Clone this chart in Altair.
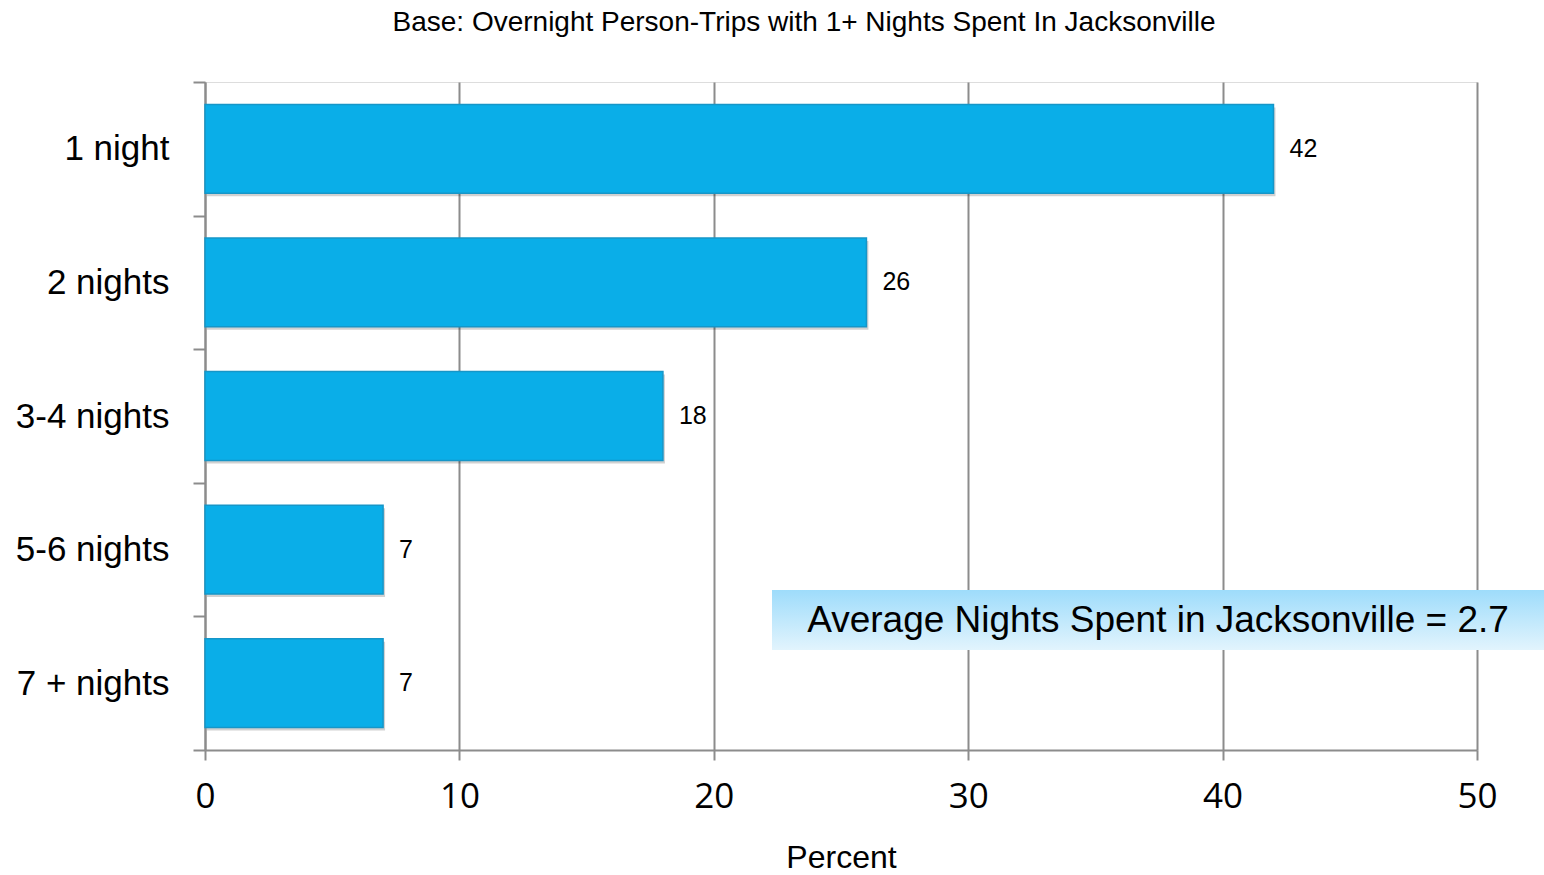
import altair as alt
import pandas as pd

# Share of overnight person-trips by length of stay
categories = ["1 night", "2 nights", "3-4 nights", "5-6 nights", "7 + nights"]
percents = [42, 26, 18, 7, 7]

title_text = "Base: Overnight Person-Trips with 1+ Nights Spent In Jacksonville"
avg_text = "Average Nights Spent in Jacksonville = 2.7"
x_ticks = [0, 10, 20, 30, 40, 50]

df = pd.DataFrame({"stay": categories, "pct": percents})

BAR = "#0AAEE8"
GRID = "#8C8C8C"
BAR_BAND = 0.665

y_enc = alt.Y(
    "stay:N",
    sort=categories,
    title=None,
    scale=alt.Scale(paddingInner=0, paddingOuter=0),
    axis=alt.Axis(
        tickBand="extent",
        tickSize=12,
        tickColor=GRID,
        tickWidth=2,
        domainColor=GRID,
        domainWidth=2,
        labelFont="Liberation Sans",
        labelFontSize=35,
        labelColor="#000000",
        labelPadding=24,
        grid=False,
    ),
)

x_enc = alt.X(
    "pct:Q",
    title="Percent",
    scale=alt.Scale(domain=[0, 50], nice=False),
    axis=alt.Axis(
        values=x_ticks,
        tickSize=10,
        tickColor=GRID,
        tickWidth=2,
        domainColor=GRID,
        domainWidth=2,
        gridColor=GRID,
        gridWidth=2,
        labelFont="Open Sans",
        labelFontSize=35,
        labelColor="#000000",
        labelPadding=19,
        labelFlush=False,
        titleFont="Liberation Sans",
        titleFontSize=32,
        titleFontWeight="normal",
        titleColor="#000000",
        titlePadding=28,
    ),
)

base = alt.Chart(df)

# soft drop shadow under each bar
shadow = base.mark_bar(
    color="#000000", opacity=0.18, yOffset=3, xOffset=2, height={"band": BAR_BAND}
).encode(x=x_enc, y=y_enc)

bars = base.mark_bar(
    color=BAR, stroke="#1696C8", strokeWidth=1.5, height={"band": BAR_BAND}
).encode(x=x_enc, y=y_enc)

labels = base.mark_text(
    align="left", baseline="middle", dx=16, font="Liberation Sans", fontSize=25, color="#000000"
).encode(x=x_enc, y=y_enc, text="pct:Q")

avg_df = pd.DataFrame({"note": [avg_text]})

avg_box = alt.Chart(avg_df).mark_rect(
    fill=alt.Gradient(
        gradient="linear",
        x1=0, x2=0, y1=0, y2=1,
        stops=[
            alt.GradientStop(color="#9EDCFB", offset=0),
            alt.GradientStop(color="#E2F4FD", offset=1),
        ],
    )
).encode(x=alt.value(567), x2=alt.value(1339), y=alt.value(508), y2=alt.value(568))

avg_label = alt.Chart(avg_df).mark_text(
    font="Liberation Sans", fontSize=37, color="#000000", align="center", baseline="middle"
).encode(x=alt.value(953), y=alt.value(539), text="note:N")

chart = (
    alt.layer(shadow, bars, labels, avg_box, avg_label)
    .properties(
        width=1272,
        height=668,
        title=alt.TitleParams(
            text=title_text,
            font="Liberation Sans",
            fontSize=28,
            fontWeight="normal",
            color="#000000",
            anchor="middle",
            dx=-37,
            offset=28,
        ),
        autosize=alt.AutoSizeParams(type="none"),
        padding={"left": 205, "top": 82, "right": 67, "bottom": 125},
    )
    .configure_view(strokeOpacity=0, strokeWidth=0)
    .configure_axisX(gridCap="butt")
    .configure(background="#FFFFFF")
)

chart.save("out.html", embed_options={"renderer": "svg", "actions": False})
